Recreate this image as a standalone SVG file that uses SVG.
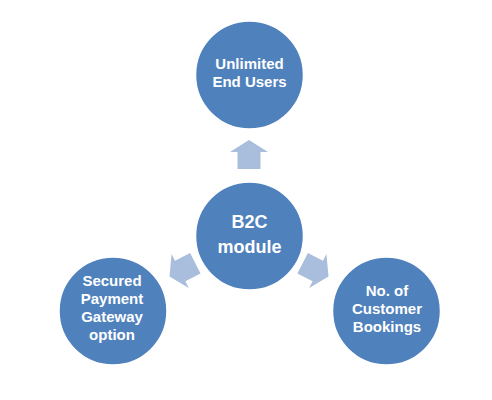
<svg xmlns="http://www.w3.org/2000/svg" width="492" height="400" viewBox="0 0 492 400">
<defs>
<style>
.node{fill:#4F81BD;stroke:#ffffff;stroke-width:1.5}
.t{fill:#ffffff;font-family:"Liberation Sans",Arial,sans-serif;font-weight:bold;font-size:15px;text-anchor:middle}
.big{font-size:18px}
.arr{fill:#A9BDDC}
</style>
<path id="arrow" d="M0,0 L19,12 L11.5,12 L11.5,29 L-11.5,29 L-11.5,12 L-19,12 Z"/>
</defs>
<rect width="492" height="400" fill="#ffffff"/>
<g id="connectors">
<use href="#arrow" class="arr" transform="translate(249 140)"/>
<use href="#arrow" class="arr" transform="translate(169.5 276.5) rotate(-117)"/>
<use href="#arrow" class="arr" transform="translate(328.5 276.5) rotate(117)"/>
</g>
<g id="center">
<circle class="node" cx="249.5" cy="236" r="54"/>
<text class="t big" x="249.5" y="228">B2C</text>
<text class="t big" x="249.5" y="253">module</text>
</g>
<g id="top">
<circle class="node" cx="249.5" cy="75" r="54"/>
<text class="t" x="249.5" y="69">Unlimited</text>
<text class="t" x="249.5" y="87">End Users</text>
</g>
<g id="left">
<circle class="node" cx="113" cy="311" r="54"/>
<text class="t" x="112" y="286">Secured</text>
<text class="t" x="112" y="304">Payment</text>
<text class="t" x="112" y="322">Gateway</text>
<text class="t" x="112" y="340">option</text>
</g>
<g id="right">
<circle class="node" cx="386.5" cy="311" r="54"/>
<text class="t" x="387" y="296">No. of</text>
<text class="t" x="387" y="314">Customer</text>
<text class="t" x="387" y="332">Bookings</text>
</g>
</svg>
